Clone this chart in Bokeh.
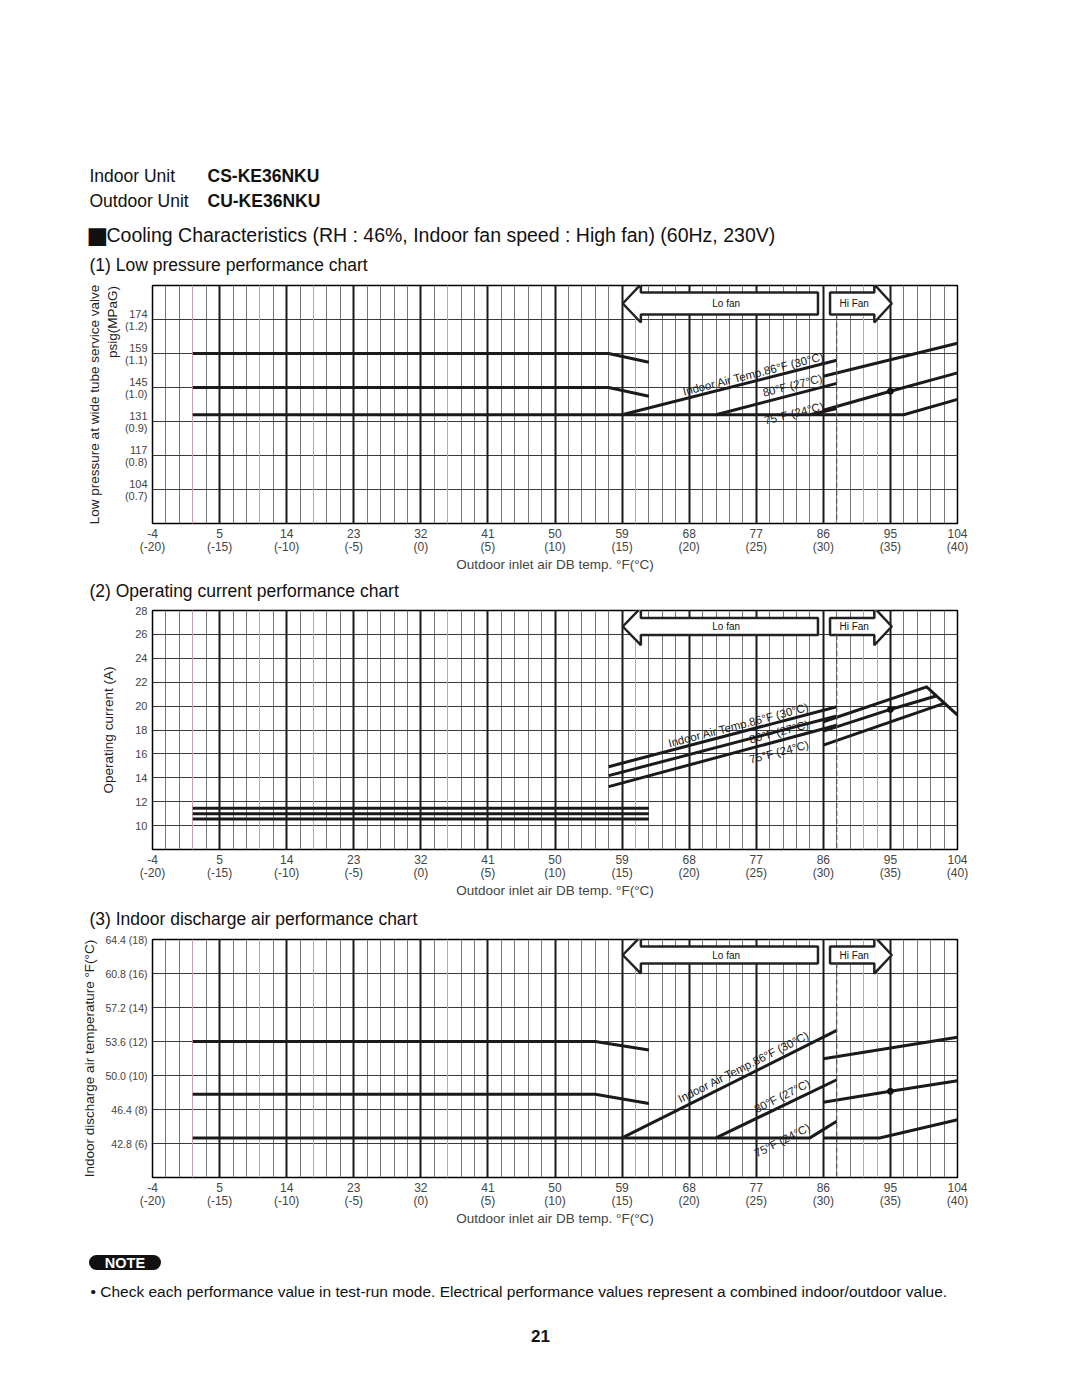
import math
from bokeh.plotting import figure
from bokeh.models import FixedTicker, LinearAxis, Range1d, Grid
from bokeh.layouts import column
from bokeh.embed import file_html
from bokeh.resources import INLINE
from bokeh.core.properties import value

FONT = "Liberation Sans"

# ---------------- shared x axis: outdoor inlet air DB temp ----------------
x_ticks_c = [-20, -15, -10, -5, 0, 5, 10, 15, 20, 25, 30, 35, 40]
x_ticks_f = ["-4", "5", "14", "23", "32", "41", "50", "59", "68", "77", "86", "95", "104"]
x_minor_c = [c for c in range(-19, 40) if c % 5 != 0]
x_red_c = [-17, -12, -8, 2, 16, 33, 34]

# ---------------- chart 1: low pressure (MPaG) ----------------
c1_yticks = [0.7, 0.8, 0.9, 1.0, 1.1, 1.2]
c1_psig = ["104", "117", "131", "145", "159", "174"]
c1_xs = [[-17, 14, 17], [-17, 14, 17], [-17, 36, 40],
         [15, 31], [22, 31], [29, 31],
         [30, 40], [30, 35, 40]]
c1_ys = [[1.10, 1.10, 1.074], [1.00, 1.00, 0.974], [0.92, 0.92, 0.965],
         [0.92, 1.08], [0.92, 1.012], [0.92, 0.938],
         [1.033, 1.13], [0.933, 0.989, 1.043]]
c1_dot_x = [35]
c1_dot_y = [0.989]

# ---------------- chart 2: operating current (A) ----------------
c2_yticks = [10, 12, 14, 16, 18, 20, 22, 24, 26, 28]
c2_xs = [[-17, 17], [-17, 17], [-17, 17],
         [14, 31], [14, 31], [14, 31],
         [30, 37.7, 40], [30, 35, 38.4], [30, 39]]
c2_ys = [[11.45, 11.45], [11.0, 11.0], [10.55, 10.55],
         [14.93, 19.94], [14.18, 19.17], [13.26, 18.4],
         [18.69, 21.61, 19.25], [17.9, 19.72, 20.85], [16.74, 20.23]]
c2_dot_x = [35]
c2_dot_y = [19.72]

# ---------------- chart 3: indoor discharge air (°C) ----------------
c3_yticks = [6, 8, 10, 12, 14, 16, 18]
c3_ylabels = ["42.8 (6)", "46.4 (8)", "50.0 (10)", "53.6 (12)", "57.2 (14)", "60.8 (16)", "64.4 (18)"]
c3_xs = [[-17, 13, 17], [-17, 13, 17], [-17, 29, 31],
         [15, 31], [22, 31],
         [30, 40], [30, 35, 40], [30, 34.2, 40]]
c3_ys = [[12.0, 12.0, 11.5], [8.9, 8.9, 8.35], [6.33, 6.33, 7.31],
         [6.33, 12.65], [6.33, 9.75],
         [10.98, 12.25], [8.43, 9.07, 9.69], [6.33, 6.33, 7.4]]
c3_dot_x = [35]
c3_dot_y = [9.07]

curve_names = ["Indoor Air Temp.86°F (30°C)", "80°F (27°C)", "75°F (24°C)"]

# fan zone arrows (°C)
lo_fan = dict(tip=15.05, head=16.4, tail=29.6, text="Lo fan", tx=22.76)
hi_fan = dict(tip=35.1, head=33.8, tail=30.5, text="Hi Fan", tx=32.3)
switch_c = 31

# page texts
header_normal = ["Indoor Unit", "Outdoor Unit",
                 "Cooling Characteristics (RH : 46%, Indoor fan speed : High fan) (60Hz, 230V)",
                 "(1) Low pressure performance chart"]
header_bold = ["CS-KE36NKU", "CU-KE36NKU"]
subtitle2 = "(2) Operating current performance chart"
subtitle3 = "(3) Indoor discharge air performance chart"
note_text = ("• Check each performance value in test-run mode. Electrical performance values "
             "represent a combined indoor/outdoor value.")
page_no = "21"

FRAME_L = 152
FRAME_W = 805
PX = FRAME_W / 60.0
W = 1080
NB = "\u00a0"


def strip(h):
    p = figure(width=W, height=h, x_range=Range1d(0, W), y_range=Range1d(h, 0),
               x_axis_location=None, y_axis_location=None,
               output_backend="svg", toolbar_location=None, min_border=0,
               min_border_left=0, min_border_right=0, min_border_top=0, min_border_bottom=0,
               outline_line_color=None, background_fill_color="white",
               border_fill_color="white")
    p.xgrid.visible = False
    p.ygrid.visible = False
    return p


def make_chart(y0, y1, yticks, ylabels, ytick_font, frame_h, top_b, bottom_b,
               xs, ys, dot_x, dot_y, txt_x, txt_y, txt_angle_slope, arrow_px, y_title):
    py = frame_h / (y1 - y0)
    p = figure(frame_width=FRAME_W, frame_height=frame_h,
               x_range=Range1d(-20, 40), y_range=Range1d(y0, y1),
               output_backend="svg", toolbar_location=None,
               min_border_left=FRAME_L, min_border_right=W - FRAME_L - FRAME_W,
               min_border_top=top_b, min_border_bottom=bottom_b,
               background_fill_color="white", border_fill_color="white",
               outline_line_color="black", outline_line_width=1.5)

    # grids
    p.xgrid.ticker = FixedTicker(ticks=x_minor_c)
    p.xgrid.grid_line_color = "#777777"
    p.xgrid.grid_line_width = 1
    p.add_layout(Grid(dimension=0, ticker=FixedTicker(ticks=x_red_c),
                      grid_line_color="#c9a0a8", grid_line_width=1))
    p.add_layout(Grid(dimension=0, ticker=FixedTicker(ticks=x_ticks_c[1:-1]),
                      grid_line_color="#1a1a1a", grid_line_width=2))
    p.ygrid.ticker = FixedTicker(ticks=[t for t in yticks if y0 < t < y1])
    p.ygrid.grid_line_color = "#3a3a3a"
    p.ygrid.grid_line_width = 1.2

    # x axis
    xa = p.xaxis[0]
    xa.ticker = FixedTicker(ticks=x_ticks_c)
    xa.major_label_overrides = {c: f"{f}\n({c})" for c, f in zip(x_ticks_c, x_ticks_f)}
    xa.axis_line_color = None
    xa.major_tick_line_color = None
    xa.minor_tick_line_color = None
    xa.major_tick_out = 0
    xa.major_tick_in = 0
    xa.minor_tick_out = 0
    xa.major_label_text_font = FONT
    xa.major_label_text_font_size = "12px"
    xa.major_label_text_line_height = 0.95
    xa.major_label_standoff = 3
    xa.axis_label = "Outdoor inlet air DB temp. °F(°C)"
    xa.axis_label_text_font = FONT
    xa.axis_label_text_font_size = "13.5px"
    xa.axis_label_text_font_style = "normal"
    xa.axis_label_standoff = 0

    # y axis
    ya = p.yaxis[0]
    ya.ticker = FixedTicker(ticks=yticks)
    ya.major_label_overrides = {t: l for t, l in zip(yticks, ylabels)}
    ya.axis_line_color = None
    ya.major_tick_line_color = None
    ya.minor_tick_line_color = None
    ya.major_tick_out = 0
    ya.major_tick_in = 0
    ya.minor_tick_out = 0
    ya.major_label_text_font = FONT
    ya.major_label_text_font_size = ytick_font
    ya.major_label_text_line_height = 1.0
    ya.major_label_standoff = 5
    ya.major_label_orientation = "horizontal"
    ya.axis_label = y_title
    ya.axis_label_text_font = FONT
    ya.axis_label_text_font_size = "13.5px"
    ya.axis_label_text_font_style = "normal"
    ya.axis_label_text_color = "#222222"

    # curves
    p.multi_line(xs=xs, ys=ys, line_color="#1a1a1a", line_width=3, line_join="miter")
    p.scatter(x=dot_x, y=dot_y, size=6, color="#111111")

    # curve name texts (rotated along the lines)
    ang = math.atan(txt_angle_slope * py / PX)
    p.text(x=txt_x, y=txt_y, text=curve_names, angle=[ang] * 3,
           text_align="center", text_baseline="middle",
           text_font=value(FONT), text_font_size="11.5px", text_color="#1a1a1a")

    # fan arrows
    yc = y1 - arrow_px[0] / py
    bh = arrow_px[1] / py
    hh = arrow_px[2] / py
    axs, ays = [], []
    for a in (lo_fan, hi_fan):
        axs.append([a["tip"], a["head"], a["head"], a["tail"], a["tail"], a["head"], a["head"]])
        ays.append([yc, yc + hh, yc + bh, yc + bh, yc - bh, yc - bh, yc - hh])
    p.patches(xs=axs, ys=ays, fill_color="white", line_color="#222222", line_width=2.5)
    p.text(x=[lo_fan["tx"], hi_fan["tx"]], y=[yc, yc], text=[lo_fan["text"], hi_fan["text"]],
           text_align="center", text_baseline="middle",
           text_font=value(FONT), text_font_size="10px", text_color="#111111")

    # lo/hi fan switch line
    p.line(x=[switch_c, switch_c], y=[yc - bh, y0], line_dash="5 3",
           line_color="#555555", line_width=1.2)
    return p, py


# ---------- header strip (page y 0..275) ----------
hdr = strip(275)
hdr.text(x=[89, 89, 106, 89], y=[175, 200, 234, 264], text=header_normal,
         text_font=value(FONT), text_font_size=["17.5px", "17.5px", "19.5px", "17.5px"],
         text_baseline="middle", text_align="left", text_color="#111111")
hdr.text(x=[207, 207], y=[175, 200], text=header_bold,
         text_font=value(FONT), text_font_size="17.5px", text_font_style="bold",
         text_baseline="middle", text_align="left", text_color="#111111")
hdr.text(x=[86], y=[234], text=["■"], text_font=value("DejaVu Sans"), text_font_size="23px",
         text_baseline="middle", text_align="left", text_color="#111111")

# ---------- chart 1 (page 275..580, frame 285..523) ----------
p1, py1 = make_chart(0.6, 1.3, c1_yticks, [f"{a}\n({b:.1f})" for a, b in zip(c1_psig, c1_yticks)], "11px",
                     238, 10, 57, c1_xs, c1_ys, c1_dot_x, c1_dot_y,
                     [24.8, 27.7, 27.8], [1.040, 1.006, 0.924], 0.01, (18, 11, 19),
                     NB * 44 + "psig(MPaG)")
ax_extra = LinearAxis(ticker=FixedTicker(ticks=[]), axis_label="Low pressure at wide tube service valve",
                      axis_line_color=None, major_tick_line_color=None, minor_tick_line_color=None,
                      major_tick_out=0, major_tick_in=0, minor_tick_out=0,
                      axis_label_text_font=FONT, axis_label_text_font_size="13.5px",
                      axis_label_text_font_style="normal", axis_label_text_color="#222222",
                      axis_label_standoff=0)
p1.add_layout(ax_extra, "left")
p1.yaxis[0].axis_label_standoff = 2

# ---------- subtitle 2 strip (page 580..602) ----------
s2 = strip(22)
s2.text(x=[89], y=[10], text=[subtitle2], text_font=value(FONT), text_font_size="17.5px",
        text_baseline="middle", text_align="left", text_color="#111111")

# ---------- chart 2 (page 602..905, frame 610..849) ----------
p2, py2 = make_chart(8, 28, c2_yticks, [str(t) for t in c2_yticks], "11px",
                     239, 8, 56, c2_xs, c2_ys, c2_dot_x, c2_dot_y,
                     [23.7, 26.7, 26.7], [18.41, 17.85, 16.16], 0.295, (16, 8.5, 18.7),
                     "Operating current (A)")
p2.yaxis[0].axis_label_standoff = 16

# ---------- subtitle 3 strip (page 905..929) ----------
s3 = strip(24)
s3.text(x=[89], y=[13], text=[subtitle3], text_font=value(FONT), text_font_size="17.5px",
        text_baseline="middle", text_align="left", text_color="#111111")

# ---------- chart 3 (page 929..1230, frame 939..1177) ----------
p3, py3 = make_chart(4, 18, c3_yticks, c3_ylabels, "10.5px",
                     238, 10, 53, c3_xs, c3_ys, c3_dot_x, c3_dot_y,
                     [24.07, 26.93, 26.93], [10.51, 8.79, 6.19], 0.395, (15.5, 8.6, 18.6),
                     "Indoor discharge air temperature °F(°C)")
p3.yaxis[0].axis_label_standoff = 5

# ---------- footer strip (page 1230..1397) ----------
ft = strip(167)
ft.quad(left=[96], right=[153], top=[24.5], bottom=[39.5], fill_color="#111111", line_color=None)
ft.scatter(x=[96, 153], y=[32, 32], size=15, marker="circle", fill_color="#111111", line_color=None)
ft.text(x=[124.5], y=[32.5], text=["NOTE"], text_font=value(FONT), text_font_size="14.5px",
        text_font_style="bold", text_color="white", text_align="center", text_baseline="middle")
ft.text(x=[90], y=[61], text=[note_text], text_font=value(FONT), text_font_size="15.5px",
        text_color="#111111", text_align="left", text_baseline="middle")
ft.text(x=[540], y=[105], text=[page_no], text_font=value(FONT), text_font_size="17px",
        text_font_style="bold", text_color="#111111", text_align="center", text_baseline="middle")

page = column(column(hdr), column(p1), column(s2), column(p2), column(s3), column(p3), column(ft),
              spacing=0)
open("out.html", "w").write(file_html(page, INLINE))
